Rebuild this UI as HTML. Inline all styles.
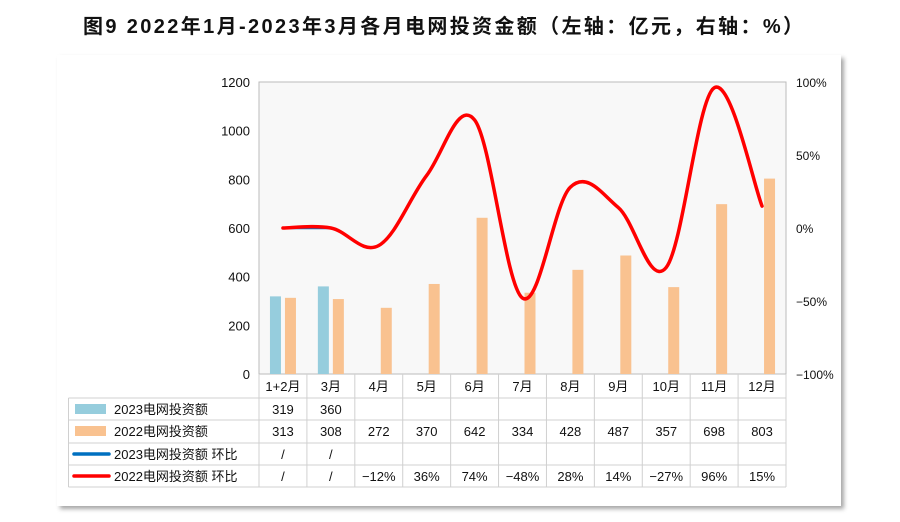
<!DOCTYPE html>
<html><head><meta charset="utf-8"><style>
body{margin:0;width:900px;height:517px;background:#fff;overflow:hidden;font-family:"Liberation Sans","Noto Sans CJK SC",sans-serif}
svg text{font-family:"Liberation Sans","Noto Sans CJK SC",sans-serif}
</style></head><body>
<svg id="c" width="900" height="517" xmlns="http://www.w3.org/2000/svg">
<defs><filter id="sh" x="-5%" y="-5%" width="110%" height="110%"><feDropShadow dx="3" dy="3" stdDeviation="2" flood-color="#000" flood-opacity="0.35"/></filter></defs>
<rect x="57" y="55" width="784" height="451" fill="#fff" filter="url(#sh)"/>
<text x="83" y="33" font-size="20" font-weight="bold" fill="#111" textLength="720">图9  2022年1月-2023年3月各月电网投资金额（左轴：亿元，右轴：%）</text>
<rect x="259" y="82" width="527" height="292" fill="#f8f8f8" stroke="#bbb"/>
<g id="g"></g>
</svg>
<script>
const categories=["1+2月","3月","4月","5月","6月","7月","8月","9月","10月","11月","12月"];
const inv2023=[319,360,null,null,null,null,null,null,null,null,null];
const inv2022=[313,308,272,370,642,334,428,487,357,698,803];
const mom2023=[0,0,null,null,null,null,null,null,null,null,null];
const mom2022=[0,0,-12,36,74,-48,28,14,-27,96,15];
const mom2022Labels=["/","/","−12%","36%","74%","−48%","28%","14%","−27%","96%","15%"];
const mom2023Labels=["/","/","","","","","","","","",""];
const leftTicks=[0,200,400,600,800,1000,1200];
const rightTicks=[-100,-50,0,50,100];

const X0=259,X1=786,Y0=374,Y1=82,cw=(X1-X0)/categories.length;
const cx=i=>X0+cw*(i+0.5);
const yL=v=>Y0-(v/1200)*(Y0-Y1);
const yR=v=>Y0-((v+100)/200)*(Y0-Y1);
const g=document.getElementById('g');const NS="http://www.w3.org/2000/svg";
function mk(t,a,txt){const e=document.createElementNS(NS,t);for(const k in a)e.setAttribute(k,a[k]);if(txt!==undefined)e.textContent=txt;g.appendChild(e);return e;}
leftTicks.forEach(v=>{const e=mk('text',{x:250,y:yL(v)+5,'text-anchor':'end','font-size':13,fill:'#111'},v);

});
rightTicks.forEach(v=>{const e=mk('text',{x:796,y:yR(v)+5,'font-size':12,fill:'#111'},(v<0?'−':'')+Math.abs(v)+'%');

});
categories.forEach((c,i)=>{
 if(inv2023[i]!=null){const b=mk('rect',{x:cx(i)-13,y:yL(inv2023[i]),width:11,height:Y0-yL(inv2023[i]),fill:'#96cddd'});
 
 }
 const b2=mk('rect',{x:cx(i)+2,y:yL(inv2022[i]),width:11,height:Y0-yL(inv2022[i]),fill:'#f9c290'});
 
 
});
function spline(pts,t){let d=`M${pts[0][0]},${pts[0][1]}`;for(let i=0;i<pts.length-1;i++){const p0=pts[i-1]||pts[i],p1=pts[i],p2=pts[i+1],p3=pts[i+2]||p2;
d+=` C${p1[0]+(p2[0]-p0[0])*t/2},${p1[1]+(p2[1]-p0[1])*t/2} ${p2[0]-(p3[0]-p1[0])*t/2},${p2[1]-(p3[1]-p1[1])*t/2} ${p2[0]},${p2[1]}`;}return d;}
const p23=mom2023.map((v,i)=>v==null?null:[cx(i),yR(v)]).filter(p=>p);
const l1=mk('path',{d:spline(p23,0.35),fill:'none',stroke:'#0070c0',"stroke-width":2.5});


const l2=mk('path',{d:spline(mom2022.map((v,i)=>[cx(i),yR(v)]),0.35),fill:'none',stroke:'#ff0000',"stroke-width":3.5,"stroke-linecap":"round"});


// table
const rows=[398,420,443,465,487];const LX=68.5;
mk('line',{x1:X0,y1:Y0,x2:X0,y2:487,stroke:'#d0d0d0'});
categories.forEach((c,i)=>{mk('line',{x1:X0+cw*(i+1),y1:Y0,x2:X0+cw*(i+1),y2:487,stroke:'#d0d0d0'});
 const t=mk('text',{x:cx(i),y:391,'text-anchor':'middle','font-size':13,fill:'#111'},c);
 
 });
rows.forEach(y=>mk('line',{x1:LX,y1:y,x2:X1,y2:y,stroke:'#d0d0d0'}));
mk('line',{x1:LX,y1:398,x2:LX,y2:487,stroke:'#d0d0d0'});
const rowData=[inv2023.map(v=>v==null?'':v),inv2022,mom2023Labels,mom2022Labels];
rowData.forEach((r,ri)=>r.forEach((v,i)=>{const t=mk('text',{x:cx(i),y:rows[ri]+16,'text-anchor':'middle','font-size':13,fill:'#111'},v);
 
 }));
const labels=["2023电网投资额","2022电网投资额","2023电网投资额  环比","2022电网投资额  环比"];
labels.forEach((l,ri)=>{const y=rows[ri]+11;
 if(ri<2)mk('rect',{x:75,y:y-5,width:31,height:10,fill:ri?'#f9c290':'#96cddd'});
 else mk('line',{x1:74,y1:y,x2:109,y2:y,stroke:ri==2?'#0070c0':'#ff0000','stroke-width':3.5,'stroke-linecap':'round'});
 const t=mk('text',{x:114,y:y+5,'font-size':13,fill:'#111'},l);
 
 });
</script>
</body></html>
